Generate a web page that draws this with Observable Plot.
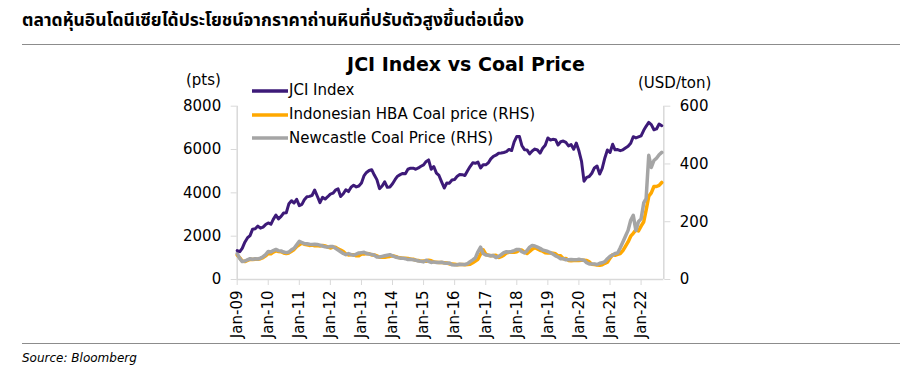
<!DOCTYPE html>
<html>
<head>
<meta charset="utf-8">
<script src="https://cdn.jsdelivr.net/npm/d3@7"></script>
<script src="https://cdn.jsdelivr.net/npm/@observablehq/plot@0.6"></script>
<style>
  html, body { margin: 0; padding: 0; background: #fff; }
  body { width: 900px; height: 377px; position: relative; overflow: hidden; font-family: "DejaVu Sans", sans-serif; color: #000; }
  .abs { position: absolute; white-space: nowrap; }
  #headline { left: 22px; top: 7px; font-family: "Noto Sans Thai", "Noto Sans Thai UI", "Loma", "Garuda", "Tlwg Typo", "Noto Sans", sans-serif; font-weight: bold; font-size: 17.5px; line-height: 28px; }
  .hr { position: absolute; left: 22px; right: 0; height: 0; border-top: 1.5px solid #8c8c8c; }
  #title { left: 0; width: 932px; text-align: center; top: 52px; font-weight: bold; font-size: 19px; line-height: 24px; }
  .unit { font-size: 15px; line-height: 18px; }
  #legend { left: 252px; top: 79px; font-size: 15px; }
  #legend .row { height: 23.8px; line-height: 23.8px; display: flex; align-items: center; }
  #legend svg { display: block; margin-right: 1px; }
  #chart { left: 0; top: 70px; }
  #source { left: 22px; top: 350px; font-style: italic; font-size: 12px; line-height: 16px; }
</style>
</head>
<body>
<div id="headline" class="abs"></div>
<div class="hr" style="top:43.5px"></div>
<div id="title" class="abs"></div>
<div id="unitL" class="abs unit" style="left:186px; top:71px;"></div>
<div id="unitR" class="abs unit" style="left:638px; top:74px;"></div>
<div id="legend" class="abs"></div>
<div id="chart" class="abs"></div>
<div class="hr" style="top:342.5px"></div>
<div id="source" class="abs"></div>
<script>
// ---------- texts ----------
const headline = "ตลาดหุ้นอินโดนีเซียได้ประโยชน์จากราคาถ่านหินที่ปรับตัวสูงขึ้นต่อเนื่อง";
const chartTitle = "JCI Index vs Coal Price";
const unitLeft = "(pts)";
const unitRight = "(USD/ton)";
const sourceText = "Source: Bloomberg";

// ---------- series (monthly, Jan-2009 .. Sep-2022) ----------
const startYear = 2009;
const seriesNames = ["JCI Index", "Indonesian HBA Coal price (RHS)", "Newcastle Coal Price (RHS)"];
const seriesColors = ["#3D1A78", "#FFA800", "#A5A5A5"];

const jci = [
  1333, 1285, 1434, 1723, 1917, 2027, 2323, 2342, 2468, 2368, 2416, 2534,
  2611, 2549, 2777, 2971, 2796, 2914, 3069, 3082, 3501, 3635, 3531, 3704,
  3409, 3470, 3679, 3820, 3837, 3889, 4131, 3842, 3549, 3791, 3715, 3822,
  3942, 3985, 4122, 4181, 3833, 3956, 4142, 4060, 4263, 4350, 4276, 4317,
  4454, 4796, 4941, 5034, 5069, 4819, 4610, 4195, 4316, 4511, 4256, 4274,
  4419, 4620, 4768, 4840, 4894, 4879, 5089, 5137, 5138, 5090, 5150, 5227,
  5289, 5450, 5519, 5086, 5216, 4911, 4803, 4510, 4224, 4455, 4447, 4593,
  4615, 4771, 4845, 4839, 4797, 5017, 5216, 5386, 5365, 5423, 5149, 5297,
  5294, 5387, 5568, 5685, 5738, 5830, 5841, 5864, 5901, 6006, 5952, 6356,
  6606, 6597, 6189, 5995, 5984, 5799, 5936, 6019, 5977, 5832, 6056, 6195,
  6533, 6443, 6469, 6455, 6209, 6359, 6391, 6329, 6169, 6228, 6012, 6300,
  5940, 5453, 4539, 4716, 4754, 4905, 5150, 5239, 4870, 5128, 5612, 5979,
  5862, 6242, 5986, 5996, 5948, 5986, 6070, 6150, 6287, 6591, 6534, 6581,
  6631, 6888, 7071, 7250, 7149, 6912, 6951, 7179, 7100
];

const hba = [
  85, 75, 64, 62, 66, 70, 69, 70, 70, 72, 76, 82,
  90, 89, 95, 99, 97, 96, 92, 90, 92, 98, 104, 114,
  120, 126, 122, 120, 118, 119, 117, 118, 116, 118, 116, 113,
  109, 112, 112, 106, 102, 97, 88, 85, 86, 86, 82, 82,
  88, 88, 90, 89, 85, 85, 82, 77, 77, 77, 79, 80,
  82, 80, 77, 75, 74, 74, 73, 70, 70, 67, 66, 63,
  64, 63, 67, 65, 61, 60, 59, 59, 58, 57, 54, 54,
  53, 51, 52, 52, 51, 52, 53, 58, 64, 70, 88, 103,
  88, 84, 82, 83, 84, 76, 79, 84, 92, 94, 95, 94,
  96, 101, 102, 95, 90, 97, 105, 110, 106, 101, 98, 93,
  92, 92, 91, 89, 82, 82, 72, 73, 66, 65, 66, 66,
  66, 67, 67, 66, 61, 53, 52, 50, 49, 51, 56, 60,
  74, 86, 84, 87, 90, 100, 115, 130, 150, 160, 172, 168,
  185, 200, 240, 288, 300, 322, 322, 326, 336
];

const newcastle = [
  90, 72, 62, 64, 68, 72, 70, 72, 71, 74, 79, 86,
  97, 95, 100, 104, 100, 99, 95, 93, 95, 103, 108, 120,
  132, 128, 124, 124, 122, 121, 122, 121, 119, 116, 113, 112,
  114, 114, 108, 102, 96, 90, 86, 90, 86, 84, 88, 92,
  93, 94, 90, 88, 87, 84, 78, 78, 80, 82, 84, 86,
  82, 78, 76, 74, 74, 72, 69, 70, 68, 67, 64, 63,
  61, 67, 63, 59, 61, 59, 59, 60, 57, 56, 57, 51,
  50, 51, 53, 52, 52, 55, 62, 68, 75, 96, 112, 90,
  85, 84, 82, 83, 76, 80, 86, 93, 96, 95, 97, 100,
  104, 104, 96, 92, 100, 112, 118, 116, 112, 108, 102, 100,
  97, 93, 88, 82, 78, 72, 72, 68, 68, 69, 68, 68,
  70, 68, 67, 58, 54, 54, 54, 52, 56, 58, 62, 72,
  80, 85, 90, 92, 110, 130, 150, 170, 205, 222, 170, 200,
  210, 265, 280, 430, 388, 412, 420, 432, 440
];

// ---------- axis ticks ----------
const leftTicks = [0, 2000, 4000, 6000, 8000];
const rightTicks = [0, 200, 400, 600];
const tickYears = [2009, 2010, 2011, 2012, 2013, 2014, 2015, 2016, 2017, 2018, 2019, 2020, 2021, 2022];
const monthAbbr = "Jan";

// ---------- build ----------
const k = leftTicks[leftTicks.length - 1] / rightTicks[rightTicks.length - 1]; // RHS -> LHS factor
const dates = jci.map((_, i) => new Date(Date.UTC(startYear, i, 1)));
const rows = dates.map((d, i) => ({ date: d, jci: jci[i], hba: hba[i] * k, nc: newcastle[i] * k }));
const xStart = dates[0];
const xEnd = new Date(Date.UTC(2022, 8, 25));
const yearDates = tickYears.map(y => new Date(Date.UTC(y, 0, 1)));
const axisGray = "#D9D9D9";

document.getElementById("headline").textContent = headline;
document.getElementById("title").textContent = chartTitle;
document.getElementById("unitL").textContent = unitLeft;
document.getElementById("unitR").textContent = unitRight;
document.getElementById("source").textContent = sourceText;

// legend
const legend = document.getElementById("legend");
seriesNames.forEach((name, i) => {
  const row = document.createElement("div");
  row.className = "row";
  row.innerHTML = `<svg width="36" height="6"><line x1="0" x2="36" y1="3" y2="3" stroke="${seriesColors[i]}" stroke-width="3.5"/></svg><span></span>`;
  row.querySelector("span").textContent = name;
  legend.appendChild(row);
});

const chart = Plot.plot({
  width: 900,
  height: 272,
  marginLeft: 236.7,
  marginRight: 236.7,
  marginTop: 35.7,
  marginBottom: 63,
  style: { fontFamily: "DejaVu Sans, sans-serif", fontSize: "15px", color: "#000", background: "transparent", overflow: "visible" },
  x: { type: "utc", domain: [xStart, xEnd] },
  y: { domain: [leftTicks[0], leftTicks[leftTicks.length - 1]] },
  marks: [
    Plot.ruleY([0], { stroke: axisGray, strokeWidth: 1.5 }),
    Plot.ruleX([xStart], { y1: leftTicks[0], y2: leftTicks[leftTicks.length - 1], stroke: axisGray, strokeWidth: 1.5 }),
    Plot.ruleX([xEnd], { y1: leftTicks[0], y2: leftTicks[leftTicks.length - 1], stroke: axisGray, strokeWidth: 1.5 }),
    Plot.axisY({ anchor: "left", ticks: leftTicks, tickSize: 6, tickPadding: 10, tickFormat: d => String(d), stroke: axisGray, fill: "#000", label: null }),
    Plot.axisY({ anchor: "right", ticks: rightTicks.map(v => v * k), tickSize: 6, tickPadding: 10, tickFormat: d => String(Math.round(d / k)), stroke: axisGray, fill: "#000", label: null }),
    Plot.axisX({ ticks: yearDates, tickSize: 6, tickPadding: 5, tickRotate: -90,
      tickFormat: d => `${monthAbbr}-${String(d.getUTCFullYear()).slice(2)}`, stroke: axisGray, fill: "#000", label: null }),
    Plot.lineY(rows, { x: "date", y: "hba", stroke: seriesColors[1], strokeWidth: 3.5 }),
    Plot.lineY(rows, { x: "date", y: "nc", stroke: seriesColors[2], strokeWidth: 3.5 }),
    Plot.lineY(rows, { x: "date", y: "jci", stroke: seriesColors[0], strokeWidth: 3 })
  ]
});
document.getElementById("chart").appendChild(chart);
</script>
</body>
</html>
